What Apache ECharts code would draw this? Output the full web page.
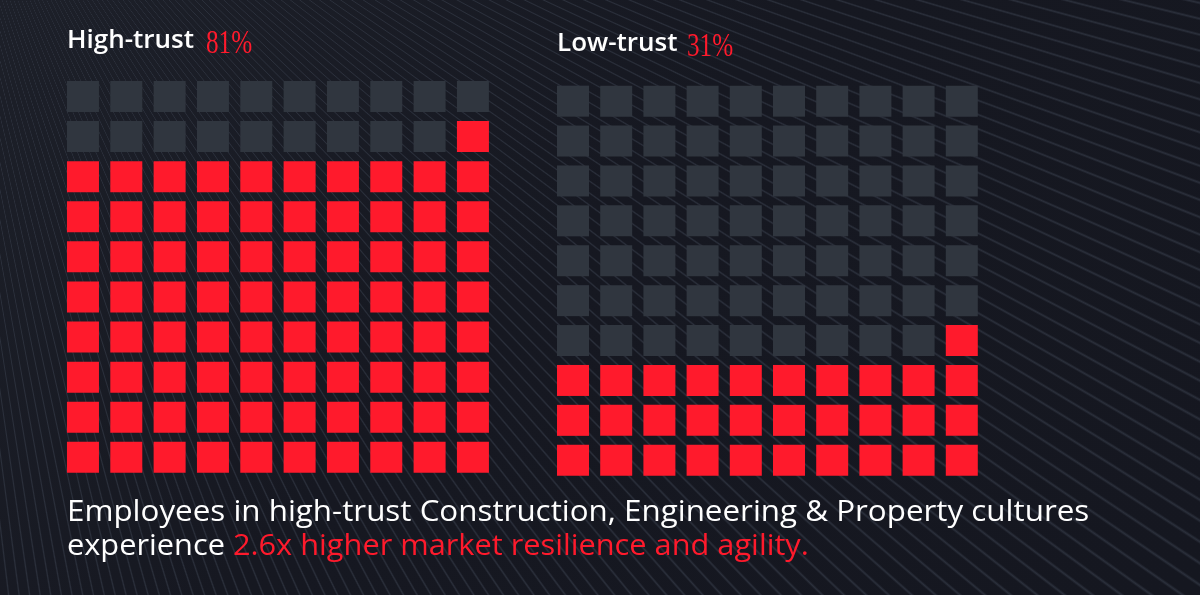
<!DOCTYPE html>
<html>
<head>
<meta charset="utf-8">
<script src="https://cdn.jsdelivr.net/npm/echarts@6/dist/echarts.min.js"></script>
<style>
  html, body { margin: 0; padding: 0; width: 1200px; height: 595px; overflow: hidden; }
  body {
    background-color: #161821;
    background-image:
      repeating-conic-gradient(from 90deg at -100px -300px,
        rgba(45,50,62,0) 0deg, rgba(45,50,62,0) 0.5deg,
        rgba(45,50,62,0.9) 0.58deg, rgba(45,50,62,0) 0.66deg),
      linear-gradient(135deg, #1d2029 0%, #161821 45%, #151720 100%);
  }
  #chart { width: 1200px; height: 595px; }
</style>
</head>
<body>
<div id="chart"></div>
<script>
// ---- data ----
const groupLabels = ['High-trust', 'Low-trust'];
const groupPercents = [81, 31];
const columnLabels = ['1', '2', '3', '4', '5', '6', '7', '8', '9', '10'];
const rowLabels = ['1', '2', '3', '4', '5', '6', '7', '8', '9', '10'];
const footnoteLine1 = 'Employees in high-trust Construction, Engineering & Property cultures';
const footnoteLine2a = 'experience ';
const footnoteLine2b = '2.6x higher market resilience and agility.';

const RED = '#ff1a2c';
const GREY = '#30363f';

// build waffle cells from a percent: fill from bottom row upward, right to left within a row
function waffleCells(pct) {
  const out = [];
  for (let r = 0; r < rowLabels.length; r++) {
    for (let c = 0; c < columnLabels.length; c++) {
      const idx = r * columnLabels.length + (columnLabels.length - 1 - c);
      out.push([c, r, idx < pct ? 1 : 0]);
    }
  }
  return out;
}

const grids = [
  { left: 61.3, top: 76.4, width: 433.3, height: 401 },
  { left: 551.4, top: 81.2, width: 432, height: 399 }
];

const chart = echarts.init(document.getElementById('chart'), null, { renderer: 'canvas' });

const xAxes = [], yAxes = [], series = [];
grids.forEach((g, i) => {
  xAxes.push({ type: 'category', gridIndex: i, data: columnLabels, show: false, boundaryGap: true });
  yAxes.push({ type: 'category', gridIndex: i, data: rowLabels, show: false, boundaryGap: true });
  series.push({
    type: 'scatter',
    xAxisIndex: i, yAxisIndex: i,
    symbol: 'rect',
    symbolSize: [32, 31],
    silent: true,
    data: waffleCells(groupPercents[i]),
    itemStyle: {
      opacity: 1,
      color: p => p.data[2] ? RED : GREY
    }
  });
});

const sans = '"Open Sans", Lato, sans-serif';
const serif = '"Liberation Serif", "DejaVu Serif", serif';

chart.setOption({
  backgroundColor: 'transparent',
  animation: false,
  grid: grids.map(g => Object.assign({ containLabel: false }, g)),
  xAxis: xAxes,
  yAxis: yAxes,
  series: series,
  graphic: [
    { type: 'text', left: 67, top: 28, style: { text: groupLabels[0], fill: '#ffffff', font: '600 26px ' + sans } },
    { type: 'text', left: 206, top: 27, scaleX: 0.74, style: { text: groupPercents[0] + '%', fill: RED, font: '34px ' + serif } },
    { type: 'text', left: 557, top: 31, style: { text: groupLabels[1], fill: '#ffffff', font: '600 26px ' + sans } },
    { type: 'text', left: 687, top: 30, scaleX: 0.74, style: { text: groupPercents[1] + '%', fill: RED, font: '34px ' + serif } },
    { type: 'text', left: 67, top: 497, scaleX: 1.045, style: { text: footnoteLine1, fill: '#ffffff', font: '30px ' + sans } },
    { type: 'text', left: 67, top: 531, scaleX: 1.025, style: {
        text: '{w|' + footnoteLine2a + '}{r|' + footnoteLine2b + '}',
        rich: {
          w: { fill: '#ffffff', font: '30px ' + sans },
          r: { fill: RED, font: '30px ' + sans }
        }
    } }
  ]
});
</script>
</body>
</html>
